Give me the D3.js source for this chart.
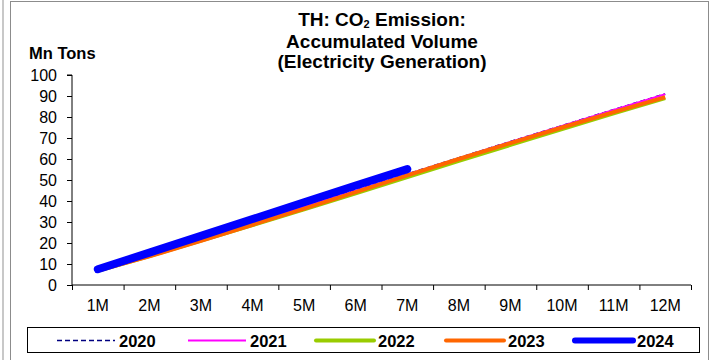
<!DOCTYPE html>
<html>
<head>
<meta charset="utf-8">
<script src="https://cdn.jsdelivr.net/npm/d3@7"></script>
<style>
	body { margin: 0; background: #fff; }
	svg { display: block; font-family: "Liberation Sans", Arial, sans-serif; }
</style>
</head>
<body>
<div id="chart"></div>
<script>
var months = ["1M", "2M", "3M", "4M", "5M", "6M", "7M", "8M", "9M", "10M", "11M", "12M"];
var years = ["2020", "2021", "2022", "2023", "2024"];
var values2020 = [7.3, 14.8, 22.4, 30.0, 37.6, 45.2, 52.9, 60.6, 68.3, 75.9, 83.5, 91.0];
var values2021 = [7.1, 14.5, 22.1, 29.7, 37.3, 44.9, 52.6, 60.4, 68.1, 75.7, 83.3, 90.8];
var values2022 = [6.8, 13.8, 21.1, 28.5, 36.0, 43.6, 51.4, 59.1, 66.7, 74.2, 81.7, 89.0];
var values2023 = [6.9, 13.6, 21.0, 28.7, 36.4, 44.2, 52.2, 60.0, 67.6, 75.0, 82.3, 89.5];
var values2024 = [7.5, 15.4, 23.4, 31.4, 39.4, 47.4, 55.2];
var yTicks = [0, 10, 20, 30, 40, 50, 60, 70, 80, 90, 100];

var seriesValues = [values2020, values2021, values2022, values2023, values2024];
var seriesColor = ["#000080", "#ff00ff", "#99cc00", "#ff6600", "#0000ff"];
var seriesWidth = [1.6, 2, 4, 4, 8];
var seriesDash = ["5,3", null, null, null, null];

var width = 712, height = 360;
var plot = { left: 72, right: 691, top: 75, bottom: 285 };

var svg = d3.select("#chart").append("svg")
	.attr("width", width)
	.attr("height", height);

// outer frame
svg.append("line")
	.attr("x1", 3).attr("x2", 3).attr("y1", 0).attr("y2", height)
	.attr("stroke", "#c8c8c8").attr("stroke-width", 2);
svg.append("rect")
	.attr("x", 10.5).attr("y", 1.5)
	.attr("width", 698).attr("height", height + 10)
	.attr("fill", "none").attr("stroke", "#8c8c8c");

var x = d3.scaleBand().domain(months).range([plot.left, plot.right]).padding(0);
var xEdge = d3.scaleLinear().domain([0, 12]).range([plot.left, plot.right]);
var y = d3.scaleLinear().domain([0, 100]).range([plot.bottom, plot.top]);

// y axis
var yAxis = svg.append("g")
	.attr("transform", "translate(" + plot.left + ",0)")
	.call(d3.axisLeft(y).tickValues(yTicks).tickSize(5).tickPadding(10));
yAxis.selectAll("text").style("font-size", "16px").attr("fill", "#000");
yAxis.selectAll("line, path").attr("stroke", "#000");
yAxis.select(".domain").attr("d", "M-5," + plot.top + "H0V" + plot.bottom);

// x axis: ticks at band edges, labels at band centres
var xAxis = svg.append("g")
	.attr("transform", "translate(0," + plot.bottom + ")")
	.call(d3.axisBottom(xEdge).tickValues(d3.range(0, 13)).tickSize(5).tickFormat(""));
xAxis.selectAll("line, path").attr("stroke", "#000");
xAxis.select(".domain").attr("d", "M" + plot.left + ",0H" + plot.right);

svg.append("g").selectAll("text")
	.data(months)
	.enter().append("text")
	.attr("x", d => x(d) + x.bandwidth() / 2)
	.attr("y", plot.bottom + 26)
	.attr("text-anchor", "middle")
	.style("font-size", "16px")
	.text(d => d);

// lines
var line = d3.line()
	.x((d, i) => x(months[i]) + x.bandwidth() / 2)
	.y(d => y(d));

svg.append("g").selectAll("path")
	.data(seriesValues)
	.enter().append("path")
	.attr("d", d => line(d))
	.attr("fill", "none")
	.attr("stroke", (d, i) => seriesColor[i])
	.attr("stroke-width", (d, i) => seriesWidth[i])
	.attr("stroke-dasharray", (d, i) => seriesDash[i])
	.attr("stroke-linecap", (d, i) => i == 4 ? "round" : "butt")
	.attr("stroke-linejoin", "round");

// title, one text per line
var t1 = svg.append("text")
	.attr("x", 382).attr("y", 26)
	.attr("text-anchor", "middle")
	.style("font-size", "19px")
	.style("font-weight", "bold");
t1.append("tspan").text("TH: CO");
t1.append("tspan").attr("dy", 2).style("font-size", "11px").text("2");
t1.append("tspan").attr("dy", -2).text(" Emission:");

svg.selectAll("text.title2")
	.data(["Accumulated Volume", "(Electricity Generation)"])
	.enter().append("text")
	.attr("class", "title2")
	.attr("x", 382)
	.attr("y", (d, i) => 48 + i * 20)
	.attr("text-anchor", "middle")
	.style("font-size", "19px")
	.style("font-weight", "bold")
	.text(d => d);

svg.append("text")
	.attr("x", 29).attr("y", 59)
	.style("font-size", "16.5px")
	.style("font-weight", "bold")
	.text("Mn Tons");

// legend
var legend = svg.append("g");
legend.append("rect")
	.attr("x", 27.5).attr("y", 327.5)
	.attr("width", 672).attr("height", 25)
	.attr("fill", "#fff").attr("stroke", "#000");

var legendX = [57, 188, 316, 446, 575];
var item = legend.selectAll("g.item")
	.data(years)
	.enter().append("g")
	.attr("class", "item")
	.attr("transform", (d, i) => "translate(" + legendX[i] + ",340.5)");
item.append("line")
	.attr("x1", 0).attr("x2", 58)
	.attr("y1", 0).attr("y2", 0)
	.attr("stroke", (d, i) => seriesColor[i])
	.attr("stroke-width", (d, i) => Math.min(seriesWidth[i], 6))
	.attr("stroke-dasharray", (d, i) => seriesDash[i])
	.attr("stroke-linecap", (d, i) => i >= 2 ? "round" : "butt");
item.append("text")
	.attr("x", 62).attr("y", 6)
	.style("font-size", "16.5px")
	.style("font-weight", "bold")
	.text(d => d);
</script>
</body>
</html>
